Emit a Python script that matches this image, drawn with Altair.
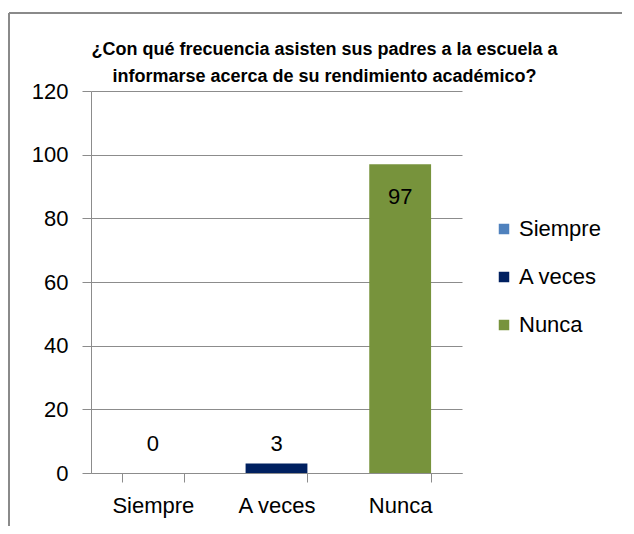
import altair as alt
import pandas as pd

categories = ["Siempre", "A veces", "Nunca"]
values = [0, 3, 97]
colors = ["#4F81BD", "#002060", "#77933C"]
title_lines = ["¿Con qué frecuencia asisten sus padres a la escuela a",
               "informarse acerca de su rendimiento académico?"]

df = pd.DataFrame({"cat": categories, "val": values})

FONT = "Liberation Sans"
GRID = "#8C8C8C"
FS = 22

x_enc = alt.X("cat:N", sort=categories, title=None,
              scale=alt.Scale(paddingInner=0.5, paddingOuter=0.25),
              axis=alt.Axis(labelAngle=0, labelFontSize=FS, labelFont=FONT, labelColor="#000000",
                            domainColor=GRID, tickColor=GRID, tickSize=9, tickBand="extent",
                            labelPadding=13, grid=False))
y_enc = alt.Y("val:Q", title=None,
              scale=alt.Scale(domain=[0, 120], nice=False),
              axis=alt.Axis(values=[0, 20, 40, 60, 80, 100, 120], labelFontSize=FS, labelFont=FONT,
                            labelColor="#000000", domainColor=GRID, tickColor=GRID, tickSize=9,
                            labelPadding=14, gridColor=GRID, gridWidth=1))

base = alt.Chart(df)

bars = base.mark_bar().encode(
    x=x_enc, y=y_enc,
    color=alt.Color("cat:N", sort=categories,
                    scale=alt.Scale(domain=categories, range=colors),
                    legend=alt.Legend(title=None, orient="none", legendX=402, legendY=127,
                                      symbolType="square", symbolSize=110, symbolStrokeWidth=0,
                                      labelFontSize=FS, labelFont=FONT, labelColor="#000000",
                                      rowPadding=26, labelOffset=4)),
)

low = base.transform_filter("datum.val < 50").mark_text(
    fontSize=FS, font=FONT, color="#000000", dy=-29
).encode(x=alt.X("cat:N", sort=categories), y=alt.datum(0), text="val:Q")

high = base.transform_filter("datum.val >= 50").mark_text(
    fontSize=FS, font=FONT, color="#000000", dy=33
).encode(x=alt.X("cat:N", sort=categories), y="val:Q", text="val:Q")

frame_v = alt.Chart(df).mark_rule(color="#8A8A8A", strokeWidth=2).encode(
    x=alt.value(-82), y=alt.value(-78), y2=alt.value(480))
frame_h = alt.Chart(df).mark_rule(color="#8A8A8A", strokeWidth=2).encode(
    x=alt.value(-82), x2=alt.value(580), y=alt.value(-78))

chart = alt.layer(frame_v, frame_h, bars, low, high).properties(
    width=371, height=382,
    autosize=alt.AutoSizeParams(type="none"),
    padding={"left": 83, "top": 83, "right": 160, "bottom": 53},
    title=alt.TitleParams(title_lines, font=FONT, fontSize=18, fontWeight="bold",
                          color="#000000", anchor="middle", dx=48, dy=74, lineHeight=27, offset=0),
).configure_view(stroke=None)

chart.save("out.html", embed_options={"renderer": "svg", "actions": False})
